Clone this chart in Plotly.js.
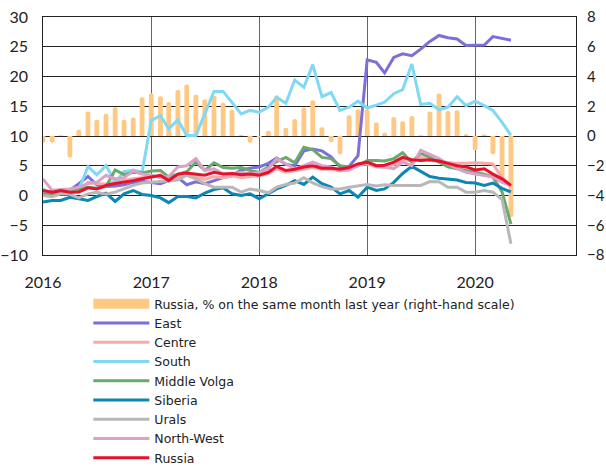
<!DOCTYPE html>
<html>
<head>
<meta charset="utf-8">
<script src="https://cdn.plot.ly/plotly-3.0.1.min.js"></script>
<style>html,body{margin:0;padding:0;background:#fff;}#chart{width:606px;height:467px;}</style>
</head>
<body>
<div id="chart"></div>
<script>
// Monthly observations from January 2016 to May 2020
var startYear = 2016, nMonths = 53;
var months = [];
for (var i = 0; i < nMonths; i++) {
  var y = startYear + Math.floor(i / 12), m = (i % 12) + 1;
  months.push(y + '-' + (m < 10 ? '0' + m : m) + '-01');
}

var russiaYoY = [-0.45,-0.45,0.05,-1.45,0.42,1.65,1.1,1.5,1.93,1.1,1.25,2.6,2.88,2.67,2.28,3.1,3.47,2.78,2.47,2.7,2.24,1.77,0.07,-0.45,-0.1,0.36,2.73,0.56,1.15,1.92,2.4,0.58,-0.42,-1.23,1.39,1.79,1.79,0.9,0.22,1.28,1.0,1.34,0.05,1.64,2.85,1.68,1.73,0.14,-0.96,0.1,-1.23,-3.14,-5.45];

var east = [0.5,0.2,0.8,0.9,2.0,3.2,1.8,1.5,1.6,1.8,2.2,2.4,2.2,2.0,2.5,3.0,1.8,2.3,2.0,2.5,3.0,3.3,4.3,4.6,4.8,5.4,6.3,5.2,5.0,7.5,7.8,7.5,6.5,4.8,4.9,6.7,22.8,22.4,20.6,23.2,23.8,23.5,24.6,25.9,26.9,26.5,26.3,25.2,25.3,25.3,26.7,26.4,26.1];
var centre = [0.5,0.3,0.8,0.5,0.8,2.2,2.0,1.9,2.3,2.6,2.8,3.0,3.2,3.3,2.6,3.0,3.5,3.2,2.7,3.2,3.0,3.3,3.0,3.2,3.3,3.7,4.5,3.9,4.2,4.4,4.7,4.4,4.4,4.1,4.3,5.2,5.3,4.8,4.8,5.2,6.0,5.8,6.4,5.9,5.7,5.5,5.4,5.4,5.5,5.4,5.3,3.0,1.5];
var south = [1.1,0.3,0.5,0.7,1.0,4.87,3.47,5.04,2.24,4.03,4.3,3.9,12.6,13.4,11.2,12.7,10.1,10.1,13.7,17.5,17.5,15.7,13.7,14.3,14.0,14.85,16.5,15.5,19.4,18.2,22.0,16.6,17.3,14.3,14.85,15.85,14.7,15.2,15.7,17.1,17.8,22.1,15.3,15.5,14.4,14.85,16.6,15.1,15.85,15.1,14.3,12.3,10.1];
var middleVolga = [0.3,0.2,0.6,0.5,1.0,1.4,1.2,1.5,4.3,3.5,3.9,3.8,4.1,4.2,3.1,3.6,4.0,5.6,4.2,5.5,4.7,4.6,4.7,4.2,3.9,4.8,5.7,6.4,5.5,8.1,7.7,6.4,6.2,5.0,4.8,5.0,5.9,5.9,5.8,6.2,7.2,5.6,7.1,6.4,5.6,4.8,4.5,4.2,3.9,3.6,3.1,0.6,-4.8];
var siberia = [-1.1,-0.84,-0.84,-0.3,-0.56,-0.84,-0.17,0.4,-1.0,0.28,0.84,0.17,0,-0.4,-1.2,-0.17,-0.17,-0.4,0.4,1.0,1.3,0.28,0,0.28,-0.56,0.28,1.1,1.7,2.5,1.85,3.1,2.0,1.4,0.28,0.84,-0.3,1.4,0.84,1.1,2.2,3.7,4.9,4.0,3.2,2.9,2.8,2.6,2.2,2.1,1.7,2.1,1.2,0.6];
var urals = [0.0,-0.2,0.28,0.2,-0.4,0.28,0.56,0.2,0.56,1.1,1.7,2.1,2.2,2.4,2.5,2.6,3.4,2.8,2.0,1.4,1.4,1.4,0.56,1.1,0.84,0.45,1.4,1.85,2.1,3.0,2.1,1.5,1.1,1.1,1.4,1.6,1.85,1.6,1.8,1.7,1.7,1.7,1.7,2.35,2.3,1.4,1.4,0.56,0.56,0.84,0.56,-0.7,-8.1];
var northWest = [2.8,0.84,1.0,1.1,1.4,2.0,2.2,3.4,2.8,3.0,4.1,3.6,3.4,3.0,3.2,4.8,5.0,6.2,4.2,4.5,3.6,3.6,3.9,3.6,3.9,4.5,6.2,5.3,4.5,5.0,5.6,5.0,4.8,4.2,4.3,5.0,5.6,5.0,4.8,4.5,5.6,5.0,7.6,6.9,6.2,5.3,4.5,3.9,3.6,3.4,3.1,2.2,1.7];
var russia = [0.84,0.56,0.84,0.56,0.6,1.3,1.1,1.7,2.0,2.2,2.5,2.8,3.1,3.4,2.5,3.6,3.8,3.6,3.4,3.9,3.6,3.7,3.5,3.6,3.4,3.9,4.9,4.2,4.4,4.8,5.0,4.6,4.6,4.4,4.7,5.3,5.6,5.0,5.1,5.6,6.4,6.0,5.9,6.0,5.8,5.4,5.0,4.8,4.3,4.5,3.6,2.8,1.7];

var barName = 'Russia, % on the same month last year (right-hand scale)';
var lineNames = ['East','Centre','South','Middle Volga','Siberia','Urals','North-West','Russia'];
var lineSeries = [east, centre, south, middleVolga, siberia, urals, northWest, russia];
var lineColors = ['#7b6fd8','#f7aaa8','#80d8f5','#6aa86c','#0c86b6','#b8b8b8','#d9a2c8','#e8112d'];
var barColor = '#ffc984';

var tickFont = 'Lato, "Noto Sans", sans-serif';
var legendFont = '"DejaVu Sans", Verdana, sans-serif';

var traces = [
  {
    type: 'bar', name: barName, x: months, y: russiaYoY, yaxis: 'y',
    marker: {color: barColor, cornerradius: 3, line: {width: 0}},
    showlegend: false, legendgroup: 'bars'
  },
  // legend-only entry with a wide swatch for the bars (draws no marks)
  {
    type: 'scatter', mode: 'lines', name: barName, x: [months[0]], y: [null], yaxis: 'y',
    line: {color: barColor, width: 10}, legendgroup: 'bars', hoverinfo: 'skip'
  }
];
for (var k = 0; k < lineNames.length; k++) {
  traces.push({
    type: 'scatter', mode: 'lines', name: lineNames[k], x: months, y: lineSeries[k],
    yaxis: 'y2', line: {color: lineColors[k], width: 3}
  });
}

var layout = {
  width: 606, height: 467,
  margin: {l: 43, r: 30, t: 17, b: 212, pad: 0, autoexpand: false},
  paper_bgcolor: '#fff', plot_bgcolor: '#fff',
  font: {family: tickFont, size: 16, color: '#222'},
  showlegend: true,
  bargap: 0.42,
  xaxis: {
    type: 'date', range: ['2016-01-01', '2020-12-07'],
    tick0: '2016-01-01', dtick: 'M12', tickformat: '%Y',
    showgrid: true, gridcolor: '#666', gridwidth: 1.2,
    showline: true, mirror: true, linecolor: '#222', linewidth: 1,
    ticks: '', ticklabelstandoff: 13, zeroline: false,
    tickfont: {family: tickFont, size: 16, color: '#222'}
  },
  yaxis: {
    side: 'right', range: [-8, 8], dtick: 2, tick0: 0,
    showgrid: true, gridcolor: '#222', gridwidth: 1,
    zeroline: false, showline: true, mirror: true, linecolor: '#222',
    ticks: '', ticklabelstandoff: 7, fixedrange: true,
    tickfont: {family: tickFont, size: 15, color: '#222'}
  },
  yaxis2: {
    overlaying: 'y', side: 'left', range: [-10, 30], dtick: 5, tick0: 0,
    showgrid: false, zeroline: false, showline: false,
    ticks: '', ticklabelstandoff: 14,
    tickfont: {family: tickFont, size: 16, color: '#222'}
  },
  legend: {
    orientation: 'v', x: 0.085, y: -0.143, xanchor: 'left', yanchor: 'top',
    traceorder: 'normal', itemwidth: 56, tracegroupgap: 0,
    font: {family: legendFont, size: 12.5, color: '#222'},
    bgcolor: 'rgba(0,0,0,0)'
  }
};

Plotly.newPlot('chart', traces, layout, {displayModeBar: false, staticPlot: true});
</script>
</body>
</html>
